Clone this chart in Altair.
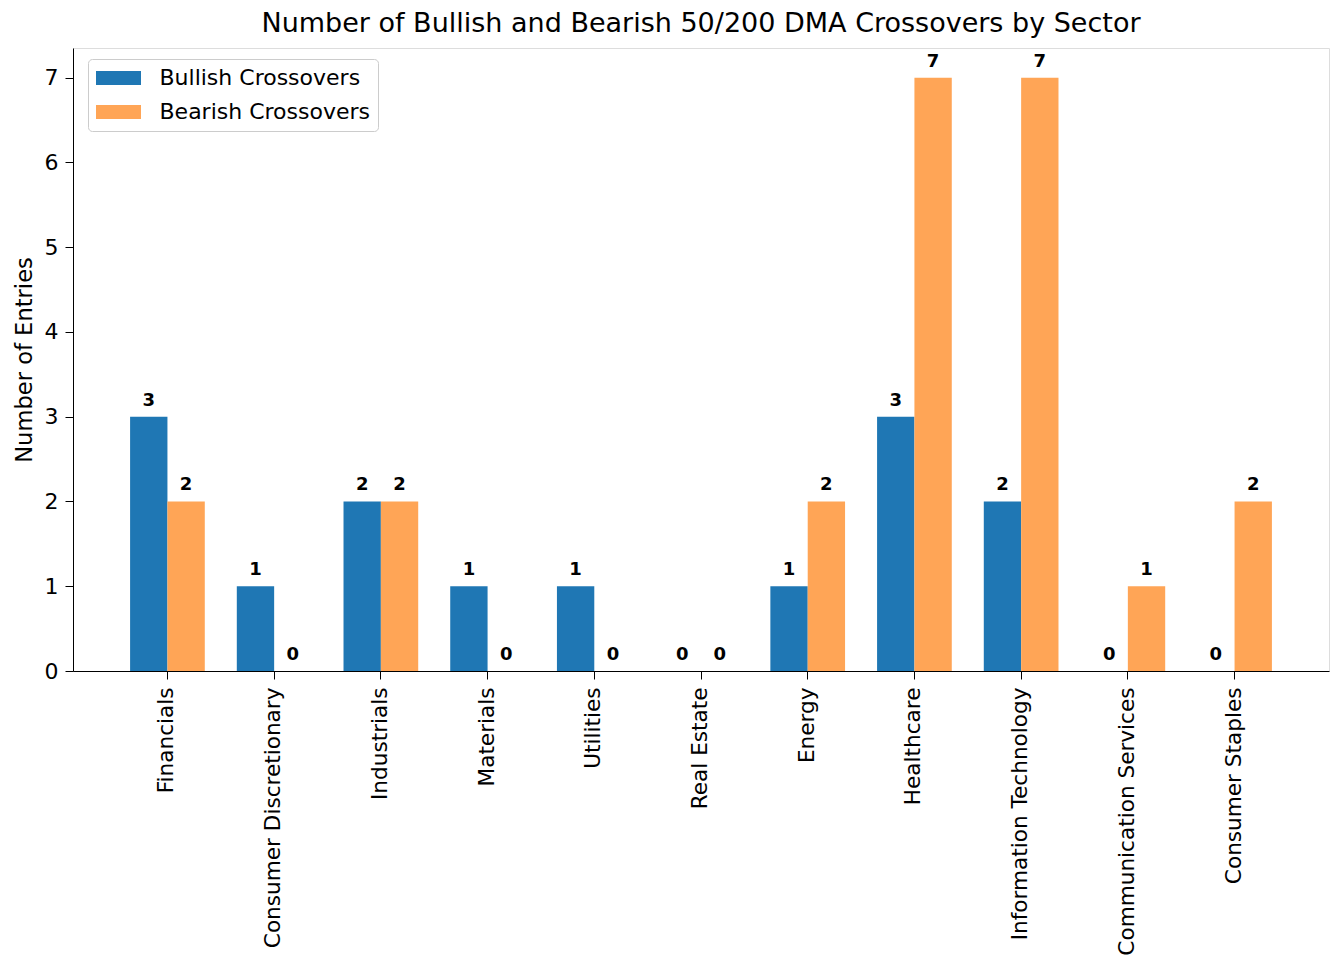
import altair as alt
import pandas as pd

sectors = ["Financials", "Consumer Discretionary", "Industrials", "Materials", "Utilities",
           "Real Estate", "Energy", "Healthcare", "Information Technology",
           "Communication Services", "Consumer Staples"]
bullish = [3, 1, 2, 1, 1, 0, 1, 3, 2, 0, 0]
bearish = [2, 0, 2, 0, 0, 0, 2, 7, 7, 1, 2]
series = ["Bullish Crossovers", "Bearish Crossovers"]
colors = ["#1f77b4", "#ffa556"]

rows = []
for s, b, r in zip(sectors, bullish, bearish):
    rows.append({"sector": s, "series": series[0], "value": b})
    rows.append({"sector": s, "series": series[1], "value": r})
df = pd.DataFrame(rows)

FONT = "DejaVu Sans"
FS = 22

x = alt.X("sector:N", sort=sectors, title=None,
          scale=alt.Scale(paddingInner=0.3, paddingOuter=0.535),
          axis=alt.Axis(labelAngle=270, labelFontSize=21.6, labelFont=FONT, labelColor="black",
                        tickColor="black", tickSize=8, domainColor="black", labelPadding=8,
                        labelLimit=400))
xoff = alt.XOffset("series:N", sort=series, scale=alt.Scale(paddingInner=0, paddingOuter=0))
y = alt.Y("value:Q", title="Number of Entries",
          scale=alt.Scale(domain=[0, 7.35], nice=False),
          axis=alt.Axis(values=list(range(8)), format="d", labelFontSize=FS, labelFont=FONT,
                        labelColor="black", tickColor="black", tickSize=8, domainColor="black",
                        grid=False, titleFontSize=22.6, titleFont=FONT, titleFontWeight="normal",
                        titleColor="black", labelPadding=7, titlePadding=8))

bars = alt.Chart(df).mark_bar().encode(
    x=x, xOffset=xoff, y=y,
    color=alt.Color("series:N", sort=series, scale=alt.Scale(domain=series, range=colors),
                    legend=alt.Legend(title=None, orient="none", legendX=15, legendY=11,
                                      labelFontSize=FS, labelFont=FONT, labelColor="black",
                                      labelLimit=400,
                                      symbolType="M-3.214,-1H3.214V1H-3.214Z", symbolSize=196,
                                      symbolOffset=11.5,
                                      symbolStrokeWidth=0, labelOffset=30, rowPadding=12,
                                      fillColor="white", strokeColor="#cccccc", cornerRadius=4,
                                      padding=8, symbolOpacity=1)),
)

labels = alt.Chart(df).mark_text(baseline="alphabetic", dy=-11, fontWeight="bold", fontSize=18,
                                 font=FONT, color="black").encode(
    x=alt.X("sector:N", sort=sectors), xOffset=alt.XOffset("series:N", sort=series),
    y="value:Q", text="value:Q")

chart = (bars + labels).properties(
    width=1256, height=623,
    padding={"left": 65, "top": 40, "right": 1, "bottom": 285},
    autosize=alt.AutoSizeParams(type="none"),
    title=alt.Title("Number of Bullish and Bearish 50/200 DMA Crossovers by Sector",
                    fontSize=27, font=FONT, fontWeight="normal", color="black", offset=10),
).configure_view(stroke="black", strokeWidth=1).configure(background="white")

chart.save("out.html", embed_options={"renderer": "svg", "actions": False})
